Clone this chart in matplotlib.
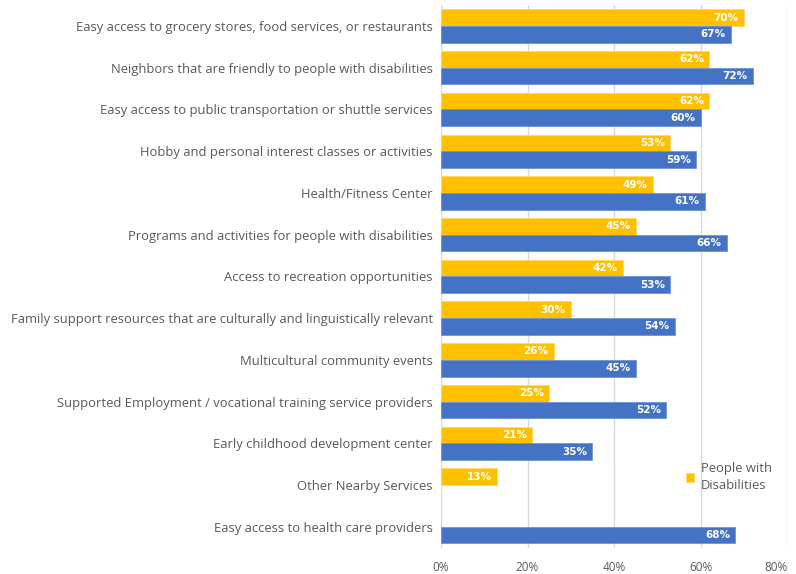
import numpy as np
import matplotlib.pyplot as plt

categories = [
    "Easy access to grocery stores, food services, or restaurants",
    "Neighbors that are friendly to people with disabilities",
    "Easy access to public transportation or shuttle services",
    "Hobby and personal interest classes or activities",
    "Health/Fitness Center",
    "Programs and activities for people with disabilities",
    "Access to recreation opportunities",
    "Family support resources that are culturally and linguistically relevant",
    "Multicultural community events",
    "Supported Employment / vocational training service providers",
    "Early childhood development center",
    "Other Nearby Services",
    "Easy access to health care providers",
]
# percent; None = no bar
disab = [70, 62, 62, 53, 49, 45, 42, 30, 26, 25, 21, 13, None]
other = [67, 72, 60, 59, 61, 66, 53, 54, 45, 52, 35, None, 68]
ticks = [0, 20, 40, 60, 80]

yellow = "#FFC000"
blue = "#4472C4"
gray = "#595959"

fig = plt.figure(figsize=(7.96, 5.74), dpi=100)
ax = fig.add_axes([0.554, 0.046, 0.435, 0.945])

y = np.arange(len(categories))
h = 0.4
for i, (a, b) in enumerate(zip(disab, other)):
    if a is not None:
        ax.barh(y[i] - h / 2, a, height=h, color=yellow, edgecolor="#FFD966", linewidth=0.6,
                zorder=3, label="People with\nDisabilities" if i == 0 else None)
        ax.text(a - 1.2, y[i] - h / 2, f"{a}%", color="white", fontsize=7.5, fontweight="bold",
                family="Liberation Sans Narrow", ha="right", va="center", zorder=4)
    if b is not None:
        ax.barh(y[i] + h / 2, b, height=h, color=blue, edgecolor="#6E93D6", linewidth=0.6,
                zorder=3)
        ax.text(b - 1.2, y[i] + h / 2, f"{b}%", color="white", fontsize=7.5, fontweight="bold",
                family="Liberation Sans Narrow", ha="right", va="center", zorder=4)

ax.set_ylim(len(categories) - 0.5, -0.5)
ax.set_xlim(0, 80)
ax.set_yticks(y)
ax.set_yticklabels(categories, fontsize=9.4, color=gray, family="Open Sans")
ax.set_xticks(ticks)
ax.set_xticklabels([f"{t}%" for t in ticks], fontsize=8.5, color=gray, family="Open Sans")
ax.get_xticklabels()[-1].set_horizontalalignment("right")
ax.tick_params(length=0, axis="both")
ax.tick_params(axis="y", pad=6)
ax.tick_params(axis="x", pad=10)
for s in ax.spines.values():
    s.set_visible(False)
ax.grid(axis="x", color="#D9D9D9", linewidth=1, zorder=0)

leg = ax.legend(loc="center left", bbox_to_anchor=(0.675, 0.13), frameon=False,
                handlelength=0.6, handleheight=0.6, handletextpad=0.5,
                prop={"family": "Open Sans", "size": 9.4})
for t in leg.get_texts():
    t.set_color(gray)
    t.set_linespacing(1.45)

fig.savefig("out.png", dpi=100)
